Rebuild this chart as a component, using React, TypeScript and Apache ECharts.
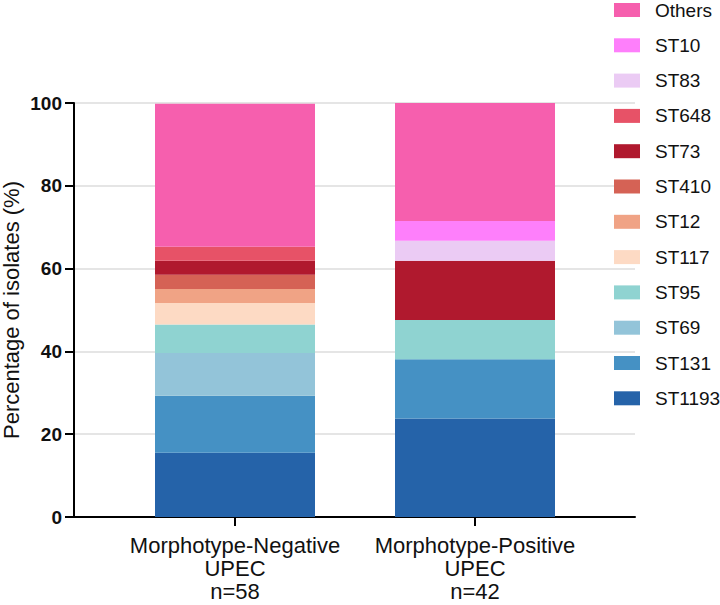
import React, { useEffect, useRef } from 'react';
import * as echarts from 'echarts';

const categories = ['Morphotype-Negative\nUPEC\nn=58', 'Morphotype-Positive\nUPEC\nn=42'];

// stacking order, bottom to top
const seriesNames = ['ST1193', 'ST131', 'ST69', 'ST95', 'ST117', 'ST12', 'ST410', 'ST73', 'ST648', 'ST83', 'ST10', 'Others'];
const seriesColors = ['#2563a9', '#4591c4', '#93c4d9', '#8fd3d1', '#fddac4', '#f0a385', '#d56255', '#b0192e', '#e75267', '#ebcbf4', '#fe7ffb', '#f65fae'];

// percentage of isolates per group [negative, positive]
const st1193 = [15.5, 23.8];
const st131 = [13.8, 14.3];
const st69 = [10.3, 0];
const st95 = [6.9, 9.5];
const st117 = [5.2, 0];
const st12 = [3.4, 0];
const st410 = [3.4, 0];
const st73 = [3.4, 14.3];
const st648 = [3.4, 0];
const st83 = [0, 4.8];
const st10 = [0, 4.8];
const others = [34.5, 28.6];

const seriesValues = [st1193, st131, st69, st95, st117, st12, st410, st73, st648, st83, st10, others];
const legendOrder = [...seriesNames].reverse();
const yTicks = [0, 20, 40, 60, 80, 100];

const font = '"Liberation Sans", Arial, Helvetica, sans-serif';

const App: React.FC = () => {
  const ref = useRef<HTMLDivElement>(null);

  useEffect(() => {
    if (!ref.current) return;
    const chart = echarts.init(ref.current, undefined, { renderer: 'svg' });

    chart.setOption({
      animation: false,
      textStyle: { fontFamily: font },
      grid: [
        { left: 74, right: 85, top: 103, bottom: 88, outerBoundsMode: 'none', containLabel: false },
        { left: 115, right: 125, top: 103, bottom: 88, outerBoundsMode: 'none', containLabel: false },
      ],
      legend: {
        data: legendOrder,
        orient: 'vertical',
        left: 614,
        top: 0,
        padding: 0,
        itemWidth: 26,
        itemHeight: 14,
        itemGap: 15.3,
        icon: 'rect',
        selectedMode: false,
        textStyle: { fontSize: 19, color: '#111', lineHeight: 20, padding: [0, 0, 0, 10], fontFamily: font },
      },
      xAxis: [
        {
          type: 'category',
          gridIndex: 0,
          data: [''],
          axisLine: { lineStyle: { color: '#000', width: 2 } },
          axisTick: { show: false },
          axisLabel: { show: false },
        },
        {
          type: 'category',
          gridIndex: 1,
          data: categories,
          axisLine: { show: false },
          axisTick: { show: true, alignWithLabel: true, length: 9, lineStyle: { color: '#000', width: 2 } },
          axisLabel: { interval: 0, color: '#111', fontSize: 22, lineHeight: 23, margin: 17, fontFamily: font },
        },
      ],
      yAxis: [
        {
          type: 'value',
          gridIndex: 0,
          min: 0,
          max: 100,
          interval: 20,
          name: 'Percentage of isolates (%)',
          nameLocation: 'middle',
          nameGap: 52,
          nameMoveOverlap: false,
          nameTextStyle: { fontSize: 22, color: '#111', fontFamily: font },
          axisLine: { show: true, lineStyle: { color: '#000', width: 2 } },
          axisTick: { show: true, length: 9, lineStyle: { color: '#000', width: 2 } },
          axisLabel: {
            color: '#111',
            fontSize: 19,
            fontWeight: 'bold',
            margin: 12,
            fontFamily: font,
            formatter: (v: number) => (yTicks.includes(v) ? String(v) : ''),
          },
          splitLine: { show: true, lineStyle: { color: '#dcdcdc', width: 1.5 } },
        },
        { type: 'value', gridIndex: 1, min: 0, max: 100, show: false },
      ],
      series: seriesNames.map((name, i) => ({
        name,
        type: 'bar',
        xAxisIndex: 1,
        yAxisIndex: 1,
        stack: 'total',
        barWidth: 160,
        data: seriesValues[i],
        itemStyle: { color: seriesColors[i] },
      })),
    });

    return () => chart.dispose();
  }, []);

  return <div ref={ref} style={{ position: 'absolute', left: 0, top: 0, width: 720, height: 605 }} />;
};

export default App;
